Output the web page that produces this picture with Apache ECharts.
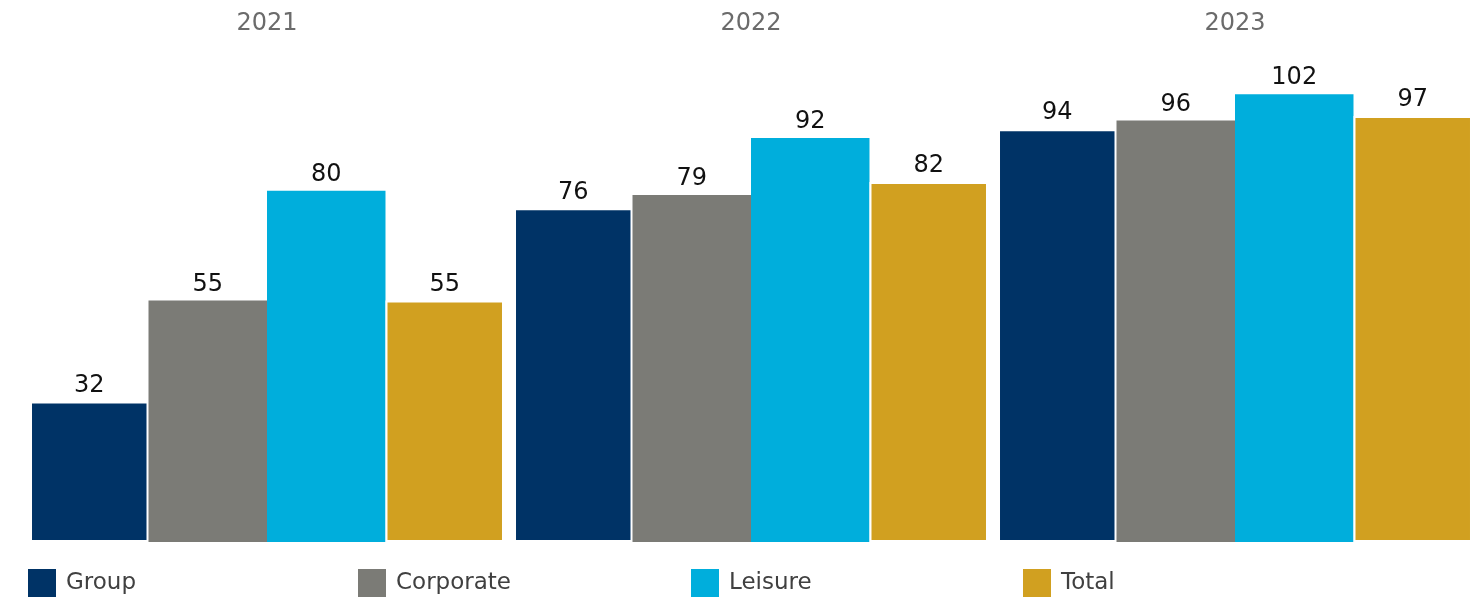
<!DOCTYPE html>
<html>
<head>
<meta charset="utf-8">
<script src="https://cdn.jsdelivr.net/npm/echarts@6/dist/echarts.min.js"></script>
<style>
html,body{margin:0;padding:0;background:#fff;}
#c{width:1480px;height:601px;}
</style>
</head>
<body>
<div id="c"></div>
<script>
const categories = ['2021', '2022', '2023'];
const seriesNames = ['Group', 'Corporate', 'Leisure', 'Total'];
const groupValues = [32, 76, 94];
const corporateValues = [55, 79, 96];
const leisureValues = [80, 92, 102];
const totalValues = [55, 82, 97];

const colors = ['#003366', '#7b7b76', '#00aedc', '#d1a020'];
const FONT = 'DejaVu Sans';

const chart = echarts.init(document.getElementById('c'));
const valuesList = [groupValues, corporateValues, leisureValues, totalValues];
const bordered = [true, false, false, true];
const legendLeft = [28, 358, 691, 1023];

const series = seriesNames.map((name, i) => ({
  name: name,
  type: 'bar',
  data: valuesList[i],
  barGap: '0%',
  barCategoryGap: '2.07%',
  itemStyle: {
    color: colors[i],
    borderColor: bordered[i] ? '#ffffff' : colors[i],
    borderWidth: bordered[i] ? 2 : 0
  },
  label: {
    show: true,
    position: 'top',
    distance: 4,
    color: '#111111',
    fontFamily: FONT,
    fontSize: 24
  }
}));

chart.setOption({
  animation: false,
  backgroundColor: '#ffffff',
  color: colors,
  grid: { left: 25, right: 3, top: 59, bottom: 59 },
  legend: seriesNames.map((n, i) => ({
    data: [n],
    left: legendLeft[i],
    top: 569,
    padding: 0,
    icon: 'rect',
    itemWidth: 28,
    itemHeight: 28,
    itemStyle: { borderWidth: 0 },
    selectedMode: false,
    textStyle: { fontFamily: FONT, fontSize: 23, color: '#404040', padding: [6, 0, 0, 5] }
  })),
  xAxis: {
    type: 'category',
    data: categories,
    position: 'top',
    axisLine: { show: false },
    axisTick: { show: false },
    axisLabel: { fontFamily: FONT, fontSize: 24, color: '#6b6b6b', margin: 23 }
  },
  yAxis: {
    type: 'value',
    min: 0,
    max: 110,
    show: false,
    splitLine: { show: false }
  },
  series: series
});
</script>
</body>
</html>
